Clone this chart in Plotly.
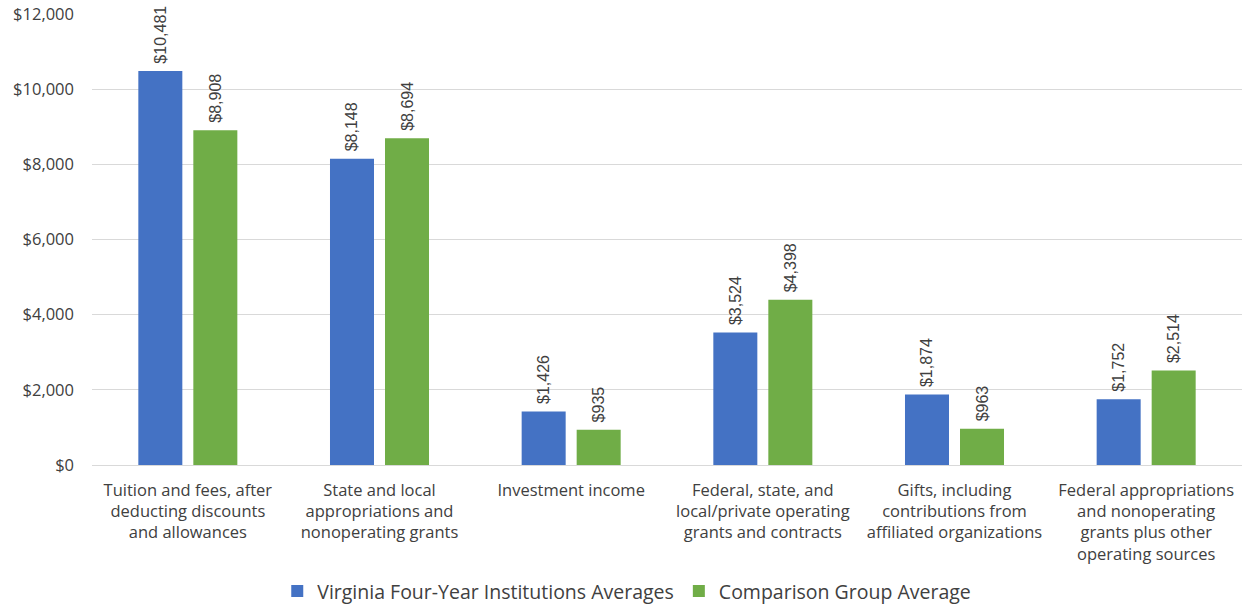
import plotly.graph_objects as go

categories = [
    "Tuition and fees, after<br>deducting discounts<br>and allowances",
    "State and local<br>appropriations and<br>nonoperating grants",
    "Investment income",
    "Federal, state, and<br>local/private operating<br>grants and contracts",
    "Gifts, including<br>contributions from<br>affiliated organizations",
    "Federal appropriations<br>and nonoperating<br>grants plus other<br>operating sources",
]
virginia = [10481, 8148, 1426, 3524, 1874, 1752]
comparison = [8908, 8694, 935, 4398, 963, 2514]
series_names = ["Virginia Four-Year Institutions Averages", "Comparison Group Average"]
tick_vals = [0, 2000, 4000, 6000, 8000, 10000, 12000]
tick_text = ["$0", "$2,000", "$4,000", "$6,000", "$8,000", "$10,000", "$12,000"]

FONT = "Open Sans, Liberation Sans, Arial, sans-serif"
LFONT = "Liberation Sans, Arial, sans-serif"
TXT = "#404040"

fig = go.Figure()
for name, vals, color in [(series_names[0], virginia, "#4472C4"), (series_names[1], comparison, "#70AD47")]:
    fig.add_trace(go.Bar(
        x=categories, y=vals, name=name, marker=dict(color=color, line=dict(width=0)),
        text=["\u00a0" + f"${v:,}" for v in vals], textposition="outside", textangle=-90,
        constraintext="none",
        textfont=dict(size=16, color=TXT, family=LFONT),
        outsidetextfont=dict(size=16, color=TXT, family=LFONT), cliponaxis=False,
    ))

fig.update_layout(
    width=1246, height=604,
    margin=dict(l=92, r=4, t=14, b=139),
    paper_bgcolor="white", plot_bgcolor="white",
    barmode="group", bargap=0.426, bargroupgap=0.2,
    font=dict(family=FONT, color=TXT, size=15),
    showlegend=True,
    legend=dict(orientation="h", x=0.465, xanchor="center",
                yref="container", y=0.021, yanchor="middle",
                font=dict(size=19.5, color=TXT, family=FONT), itemwidth=30, traceorder="normal"),
)
fig.update_yaxes(range=[0, 12000], tickvals=tick_vals, ticktext=tick_text,
                 showgrid=True, gridcolor="#D9D9D9", gridwidth=1, zeroline=True,
                 zerolinecolor="#D9D9D9", zerolinewidth=1, showline=False, automargin=False,
                 tickfont=dict(size=16.5, color=TXT, family=FONT), ticks="", ticklabelstandoff=17)
fig.update_xaxes(showline=False, ticks="", tickfont=dict(size=16.5, color=TXT, family=FONT),
                 tickangle=0, ticklabelstandoff=13, automargin=False)

fig.write_html("out.html")
